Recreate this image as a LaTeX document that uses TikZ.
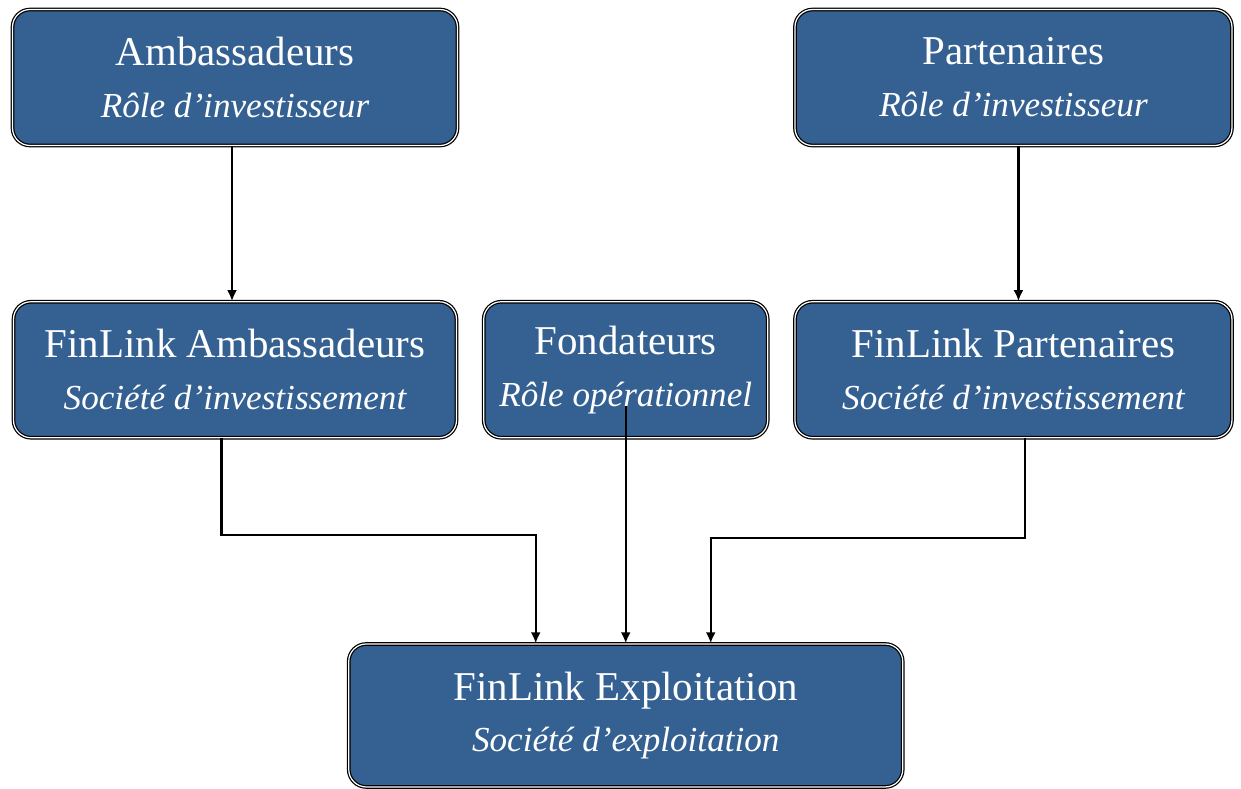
\documentclass[tikz,border=0pt]{standalone}
\usepackage{fontspec}
\setmainfont{Liberation Serif}
\usepackage{xcolor}
\usepackage{tikz}
\usetikzlibrary{arrows.meta,positioning}
\definecolor{c1}{RGB}{52,97,146}
\newcommand{\rolefont}{\fontsize{20}{29.5}\selectfont\itshape}
\tikzset{box/.style={draw=black,line width=0.7pt,double=white,double distance=0.7pt,
    rounded corners=10pt,fill=c1,text=white,align=center,
    font=\fontsize{23.3}{29.5}\selectfont,minimum height=2.72cm,minimum width=#1},
  box/.default=8.9cm,
  arr/.style={-{Latex[length=2.2mm,width=2mm]},line width=1.3pt}}

\begin{document}
\begin{tikzpicture}[node distance=3.1cm and 0.52cm]
\node[box] (amb) at (4.7,-1.55) {Ambassadeurs\\ {\rolefont Rôle d’investisseur}};
\node[box=8.86cm,below=of amb] (fla) {FinLink Ambassadeurs\\ {\rolefont Société d’investissement}};
\node[box=5.68cm,right=of fla] (fond) {Fondateurs\\ {\rolefont Rôle opérationnel}};
\node[box=8.74cm,right=of fond] (flp) {FinLink Partenaires\\ {\rolefont Société d’investissement}};
\node[box=8.74cm,above=of flp] (part) {Partenaires\\ {\rolefont Rôle d’investisseur}};
\node[box=11.08cm,minimum height=2.86cm,below=4.1cm of fond] (expl) {FinLink Exploitation\\ {\rolefont Société d’exploitation}};
\draw[arr] ([xshift=-0.06cm]amb.south) -- ([xshift=-0.06cm]fla.north);
\draw[arr] ([xshift=0.1cm]part.south) -- ([xshift=0.1cm]flp.north);
\draw[arr] ([xshift=-0.27cm]fla.south) -- ++(0,-1.94) -| ([xshift=-1.8cm]expl.north);
\draw[arr] ([yshift=0.64cm]fond.south) -- (expl.north);
\draw[arr] ([xshift=0.23cm]flp.south) -- ++(0,-2.0) -| ([xshift=1.7cm]expl.north);
\useasboundingbox (0,0) rectangle (24.82,-15.74);
\end{tikzpicture}
\end{document}
